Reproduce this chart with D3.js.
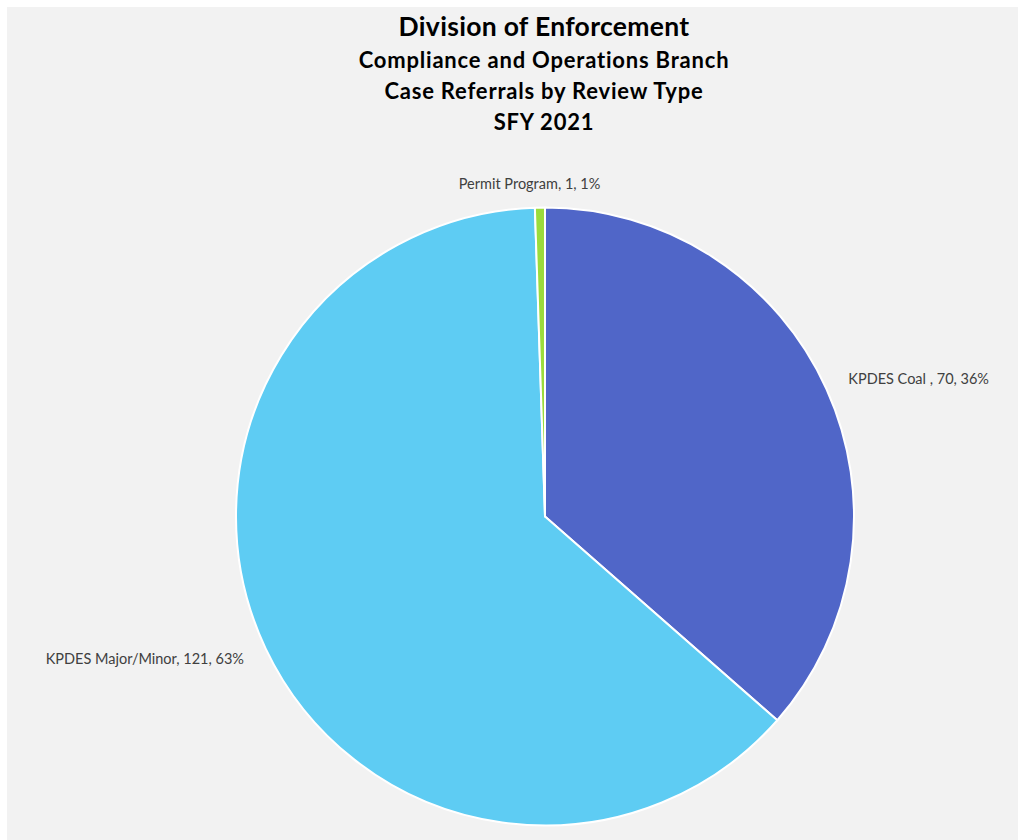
<!DOCTYPE html>
<html><head><meta charset="utf-8">
<script src="https://cdn.jsdelivr.net/npm/d3@7"></script>
<style>html,body{margin:0;padding:0;background:#fff;}svg{display:block;}</style>
</head><body>
<svg id="chart" width="1020" height="840"></svg>
<script>
const categories = ["KPDES Coal ", "KPDES Major/Minor", "Permit Program"];
const values = [70, 121, 1];
const percents = ["36%", "63%", "1%"];
const colors = ["#5066C8", "#5ECCF3", "#9BDC3C"];
const titleLines = ["Division of Enforcement", "Compliance and Operations Branch", "Case Referrals by Review Type", "SFY 2021"];

const svg = d3.select("#chart");
svg.append("rect").attr("x", 7).attr("y", 7).attr("width", 1011).attr("height", 840).attr("fill", "#f2f2f2");

const font = "Lato, 'Open Sans', sans-serif";
const tg = svg.append("g").attr("font-family", font).attr("font-weight", "bold").attr("fill", "#000").attr("text-anchor", "middle");
const titleY = [36, 68, 99, 130];
const titleSize = [26.5, 22, 22, 22];
const titleSpacing = [0.3, 0.8, 0.8, 0.8];
titleLines.forEach((t, i) => {
  tg.append("text").attr("x", 544).attr("y", titleY[i]).attr("font-size", titleSize[i])
    .attr("letter-spacing", titleSpacing[i]).text(t);
});

const cx = 545, cy = 516.5, r = 309;
const pie = d3.pie().value(d => d).sort(null);
const arcs = pie(values);
const arc = d3.arc().innerRadius(0).outerRadius(r);
const g = svg.append("g").attr("transform", `translate(${cx},${cy})`);
g.selectAll("path").data(arcs).join("path")
  .attr("d", arc)
  .attr("fill", (d, i) => colors[i])
  .attr("stroke", "#fff").attr("stroke-width", 2).attr("stroke-linejoin", "round");

const labelArc = d3.arc().innerRadius(333).outerRadius(333);
const anchors = ["start", "end", "middle"];
const dxs = [0, 0, -10];
g.selectAll("text.lbl").data(arcs).join("text")
  .attr("class", "lbl")
  .attr("transform", d => { const c = labelArc.centroid(d); return `translate(${c[0]},${c[1]})`; })
  .attr("dx", (d, i) => dxs[i])
  .attr("dy", "0.35em")
  .attr("text-anchor", (d, i) => anchors[i])
  .attr("font-family", font).attr("font-size", 14.5).attr("fill", "#404040")
  .text((d, i) => `${categories[i]}, ${values[i]}, ${percents[i]}`);
</script>
</body></html>
